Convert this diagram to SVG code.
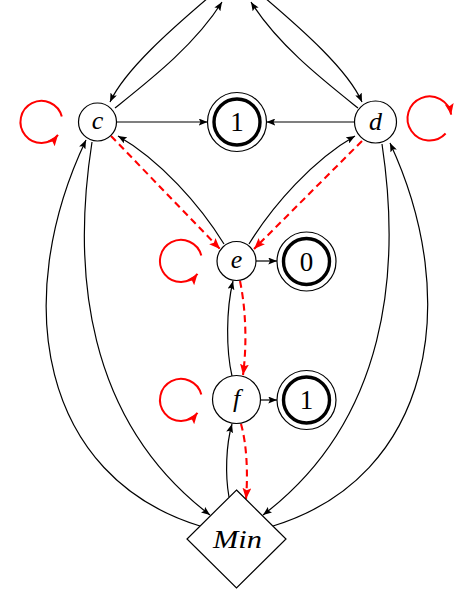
<svg xmlns="http://www.w3.org/2000/svg" width="474" height="589" viewBox="0 0 474 589">
<defs>
<style>
.n{fill:#fff;stroke:#000;stroke-width:1.2}
.acc{fill:none;stroke:#000;stroke-width:3.4}
.e{fill:none;stroke:#000;stroke-width:1.2}
.r{fill:none;stroke:#f00;stroke-width:2.1;stroke-dasharray:7 4.5}
.l{fill:none;stroke:#f00;stroke-width:2}
.m{font-family:"Liberation Serif","DejaVu Serif",serif;font-style:italic;font-size:26px;text-anchor:middle}
.u{font-family:"Liberation Serif","DejaVu Serif",serif;font-size:27px;text-anchor:middle}
</style>
<marker id="ab" viewBox="0 0 10 8" refX="10" refY="4" markerWidth="9" markerHeight="7" orient="auto" markerUnits="userSpaceOnUse"><path d="M0,0 L10,4 L0,8 L2,4 z" fill="#000"/></marker>
<marker id="ar" viewBox="0 0 10 8" refX="10" refY="4" markerWidth="11" markerHeight="9" orient="auto" markerUnits="userSpaceOnUse"><path d="M0,0 L10,4 L0,8 L2,4 z" fill="#f00"/></marker>
</defs>
<g id="connectors">
<path class="e" d="M215,-8 C170,30 125,70 110,102" marker-end="url(#ab)"/>
<path class="e" d="M115,108 C150,80 195,45 222,2" marker-end="url(#ab)"/>
<path class="e" d="M258,-8 C303,30 348,70 362,102" marker-end="url(#ab)"/>
<path class="e" d="M358,108 C323,80 278,45 251,2" marker-end="url(#ab)"/>
<path class="e" d="M116.5,122 L207.5,122" marker-end="url(#ab)"/>
<path class="e" d="M354.5,122 L266.5,122" marker-end="url(#ab)"/>
<path class="e" d="M224,244 C200,205 160,160 118,136" marker-end="url(#ab)"/>
<path class="e" d="M249,244 C273,205 313,160 355,136" marker-end="url(#ab)"/>
<path class="e" d="M256,261 L277,261" marker-end="url(#ab)"/>
<path class="e" d="M260.5,400 L277,400" marker-end="url(#ab)"/>
<path class="e" d="M232,376 C226,350 226,310 233,281" marker-end="url(#ab)"/>
<path class="e" d="M229,497 C225,475 226,445 232,424" marker-end="url(#ab)"/>
<path class="e" d="M200,526 C40,477 10,300 86,140" marker-end="url(#ab)"/>
<path class="e" d="M92,142 C72,270 85,420 210,515" marker-end="url(#ab)"/>
<path class="e" d="M273,526 C433,477 463,300 390,143" marker-end="url(#ab)"/>
<path class="e" d="M382,144 C401,270 388,420 263,515" marker-end="url(#ab)"/>
<path class="r" d="M111,136 L220,249" marker-end="url(#ar)"/>
<path class="r" d="M362,141 L254,249" marker-end="url(#ar)"/>
<path class="r" d="M240,281 C246,310 247,345 243,375" marker-end="url(#ar)"/>
<path class="r" d="M241,424 C247,445 248,475 246,499" marker-end="url(#ar)"/>
<path class="l" d="M61.8,116.6 A21 21 0 1 0 58,134.9" marker-end="url(#ar)"/>
<path class="l" d="M201.3,255.6 A21 21 0 1 0 197.5,273.9" marker-end="url(#ar)"/>
<path class="l" d="M201.3,394.6 A21 21 0 1 0 197.5,412.9" marker-end="url(#ar)"/>
<path class="l" d="M445.6,133.5 A22 22 0 1 1 451.2,114.7" marker-end="url(#ar)"/>
</g>
<g id="c"><circle class="n" cx="97.5" cy="122" r="19"/><text class="m" x="97.5" y="129">c</text></g>
<g id="d"><circle class="n" cx="375.5" cy="122" r="21"/><text class="m" x="375.5" y="130">d</text></g>
<g id="acc1top"><circle class="n" cx="237" cy="122" r="29.5"/><circle class="acc" cx="237" cy="122" r="23"/><text class="u" x="237" y="131">1</text></g>
<g id="e"><circle class="n" cx="236.5" cy="261" r="19.5"/><text class="m" x="236.5" y="268">e</text></g>
<g id="acc0"><circle class="n" cx="306.5" cy="261.5" r="29.5"/><circle class="acc" cx="306.5" cy="261.5" r="23"/><text class="u" x="306.5" y="270.5">0</text></g>
<g id="f"><circle class="n" cx="236.5" cy="399.5" r="24"/><text class="m" x="236.5" y="407">f</text></g>
<g id="acc1bot"><circle class="n" cx="306.5" cy="400" r="29.5"/><circle class="acc" cx="306.5" cy="400" r="23"/><text class="u" x="306.5" y="409">1</text></g>
<g id="min"><path class="n" d="M236.5,490 L286,539 L236.5,588 L187,539 Z"/><text class="m" x="237.5" y="548" textLength="49" lengthAdjust="spacingAndGlyphs">Min</text></g>
</svg>
